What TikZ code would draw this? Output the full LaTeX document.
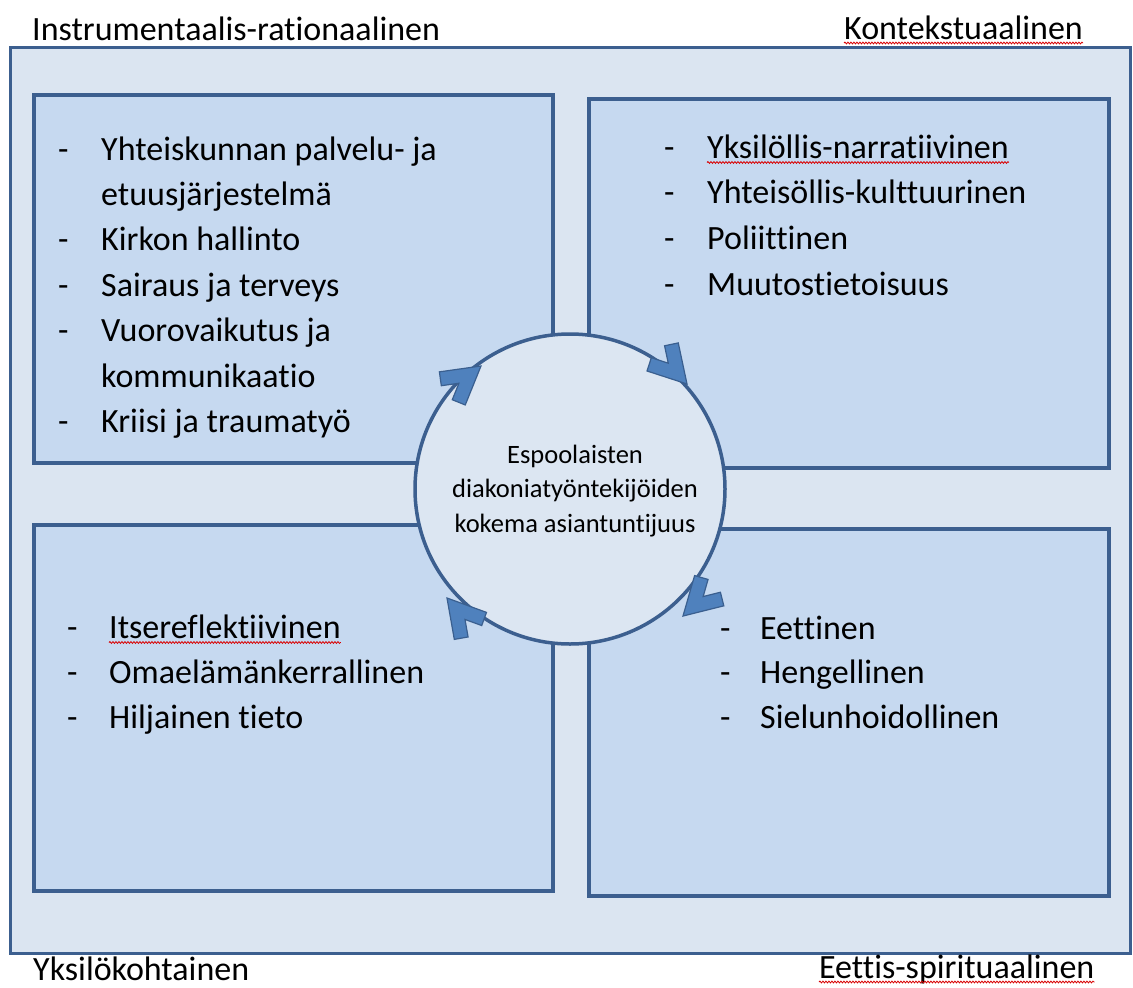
\documentclass[tikz,border=0pt]{standalone}
\usepackage{fontspec}
\setmainfont{Carlito}[Ligatures=NoCommon]
\usetikzlibrary{decorations.pathmorphing,shadows}
\definecolor{outerfill}{HTML}{DBE5F1}
\definecolor{boxfill}{HTML}{C6D9F0}
\definecolor{circfill}{HTML}{DCE6F2}
\definecolor{edge}{HTML}{3C5F8F}
\definecolor{chevfill}{HTML}{4F81BD}
\definecolor{chevline}{HTML}{3A5F8F}
\tikzset{
  outerbox/.style={draw=edge, fill=outerfill, line width=3pt, inner sep=0pt, outer sep=0pt},
  quadbox/.style={draw=edge, fill=boxfill, line width=4pt, inner sep=0pt, outer sep=0pt,
     drop shadow={shadow xshift=1pt, shadow yshift=-2pt, opacity=0.3, fill=black}},
  ringnode/.style={circle, draw=edge, fill=circfill, line width=3.5pt, inner sep=0pt, minimum size=310pt},
  item/.style={anchor=base west, inner sep=0pt, font=\fontsize{34}{40}\selectfont},
  corner/.style={anchor=base west, inner sep=0pt, font=\fontsize{34}{40}\selectfont},
  ctext/.style={anchor=base, inner sep=0pt, font=\fontsize{26.5}{32}\selectfont},
  chev/.style={fill=chevfill, draw=chevline, line width=1.2pt, line join=miter},
  squiggle/.style={draw=red!85!black, line width=0.8pt, decorate, decoration={snake, amplitude=0.9pt, segment length=3pt}}
}
\newcommand{\chevshape}{(0pt,0pt) -- (-36.4pt,21pt) -- (-43.4pt,8.9pt) -- (-28pt,0pt) -- (-43.4pt,-8.9pt) -- (-36.4pt,-21pt) -- cycle}
\begin{document}
\begin{tikzpicture}[x=1pt,y=-1pt]
\useasboundingbox (0,0) rectangle (1133,988);
\fill[white] (0,0) rectangle (1133,988);

% outer frame
\node[outerbox, minimum width=1120pt, minimum height=906pt] (outer) at (570,500) {};

% quadrant boxes
\node[quadbox, minimum width=519pt, minimum height=368pt] (tl) at (293.5,279) {};
\node[quadbox, minimum width=520pt, minimum height=369pt] (tr) at (849,283.5) {};
\node[quadbox, minimum width=519pt, minimum height=366pt] (bl) at (293.5,708) {};
\node[quadbox, minimum width=520pt, minimum height=367pt] (br) at (849,712.5) {};

% central circle
\node[ringnode] (ring) at (570,489) {};
\node[ctext] (c1) at (575,463) {Espoolaisten};
\node[ctext] (c2) at (575,497.5) {diakoniatyöntekijöiden};
\node[ctext] (c3) at (575,532) {kokema asiantuntijuus};

% chevrons on the circle
\begin{scope}[shift={(481,366)}, rotate=38]
  \path[chev] \chevshape;
\end{scope}
\begin{scope}[shift={(687,384)}, rotate=-48]
  \path[chev] \chevshape;
\end{scope}
\begin{scope}[shift={(683,616)}, rotate=-136]
  \path[chev] \chevshape;
\end{scope}
\begin{scope}[shift={(447,598)}, rotate=130]
  \path[chev] \chevshape;
\end{scope}

% corner labels
\node[corner] (lab1) at (32,40) {Instrumentaalis-rationaalinen};
\node[corner] (lab2) at (844,39) {Kontekstuaalinen};
\node[corner] (lab3) at (33,980) {Yksilökohtainen};
\node[corner] (lab4) at (819,978) {Eettis-spirituaalinen};

% top-left list
\node[item] (tld1) at (58,160) {-};
\node[item] (tlt1) at (101,160) {Yhteiskunnan palvelu- ja};
\node[item] (tlt1b) at (101,205.5) {etuusjärjestelmä};
\node[item] (tld2) at (58,250.5) {-};
\node[item] (tlt2) at (101,250.5) {Kirkon hallinto};
\node[item] (tld3) at (58,296) {-};
\node[item] (tlt3) at (101,296) {Sairaus ja terveys};
\node[item] (tld4) at (58,341) {-};
\node[item] (tlt4) at (101,341) {Vuorovaikutus ja};
\node[item] (tlt4b) at (101,387) {kommunikaatio};
\node[item] (tld5) at (58,432) {-};
\node[item] (tlt5) at (101,432) {Kriisi ja traumatyö};

% top-right list
\node[item] (trd1) at (664,158) {-};
\node[item] (trt1) at (707,158) {Yksilöllis-narratiivinen};
\node[item] (trd2) at (664,203) {-};
\node[item] (trt2) at (707,203) {Yhteisöllis-kulttuurinen};
\node[item] (trd3) at (664,249.5) {-};
\node[item] (trt3) at (707,249.5) {Poliittinen};
\node[item] (trd4) at (664,295) {-};
\node[item] (trt4) at (707,295) {Muutostietoisuus};

% bottom-left list
\node[item] (bld1) at (67,638) {-};
\node[item] (blt1) at (109,638) {Itsereflektiivinen};
\node[item] (bld2) at (67,683) {-};
\node[item] (blt2) at (109,683) {Omaelämänkerrallinen};
\node[item] (bld3) at (67,728) {-};
\node[item] (blt3) at (109,728) {Hiljainen tieto};

% bottom-right list
\node[item] (brd1) at (720,639) {-};
\node[item] (brt1) at (760,639) {Eettinen};
\node[item] (brd2) at (720,683.5) {-};
\node[item] (brt2) at (760,683.5) {Hengellinen};
\node[item] (brd3) at (720,728) {-};
\node[item] (brt3) at (760,728) {Sielunhoidollinen};

% spell-check squiggles
\draw[squiggle] ([yshift=-4pt]lab2.base west) -- ([yshift=-4pt]lab2.base east);
\draw[squiggle] ([yshift=-4pt]lab4.base west) -- ([yshift=-4pt]lab4.base east);
\draw[squiggle] ([yshift=-4.5pt]trt1.base west) -- ([yshift=-4.5pt]trt1.base east);
\draw[squiggle] ([yshift=-4.5pt]blt1.base west) -- ([yshift=-4.5pt]blt1.base east);
\end{tikzpicture}
\end{document}
